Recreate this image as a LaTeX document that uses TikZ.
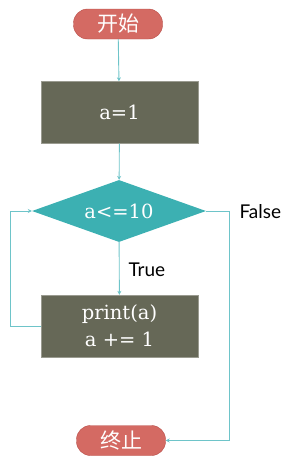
\documentclass[tikz,border=0pt]{standalone}
\usepackage{fontspec}
\setmainfont{DejaVu Serif}
\setsansfont{Lato}
\newfontfamily\cjk{Noto Sans CJK SC}
\usetikzlibrary{shapes.geometric,arrows.meta}
\definecolor{pillred}{HTML}{D46A63}
\definecolor{pilledge}{HTML}{B84E48}
\definecolor{boxgray}{HTML}{666857}
\definecolor{boxedge}{HTML}{9A9B90}
\definecolor{diateal}{HTML}{3CB0B2}
\definecolor{flowline}{HTML}{6EC4C9}
\tikzset{
  terminal/.style={draw=pilledge, fill=pillred, rounded corners=14pt, minimum width=89pt, minimum height=30pt, inner sep=0pt, text=white, font=\cjk\fontsize{21}{22}\selectfont},
  procbox/.style={draw=boxedge, fill=boxgray, minimum width=157pt, minimum height=62pt, inner sep=0pt, text=white, align=center, font=\fontsize{19.5}{27}\selectfont},
  decision/.style={diamond, aspect=2.8, fill=diateal, inner sep=0pt, minimum width=174pt, minimum height=62pt, text=white, font=\fontsize{19.5}{22}\selectfont},
  flow/.style={draw=flowline, line width=0.9pt, -{Stealth[length=4pt,width=4pt]}},
  tag/.style={font=\sffamily\fontsize{19}{21}\selectfont}
}
\begin{document}
\begin{tikzpicture}[x=1pt,y=-1pt]
  \useasboundingbox (0,0) rectangle (289,464);
  \node[terminal] (start) at (118,24) {开始};
  \node[procbox] (init) at (119.5,112.5) {a=1};
  \node[decision] (cond) at (119,211) {a<=10};
  \node[procbox] (body) at (119.5,326) {print(a)\\a += 1};
  \node[terminal] (stop) at (121,440.5) {终止};
  \node[tag, anchor=west] (no) at (236,212) {False};
  \node[tag, anchor=west] (yes) at (125,270) {True};
  \draw[flow] (start) -- (init);
  \draw[flow] (init) -- (cond);
  \draw[flow] (cond) -- (body);
  \draw[flow] (body.west) -- (10,326) |- (cond.west);
  \draw[flow] (cond.east) -- (229,211) |- (stop.east);
\end{tikzpicture}
\end{document}
